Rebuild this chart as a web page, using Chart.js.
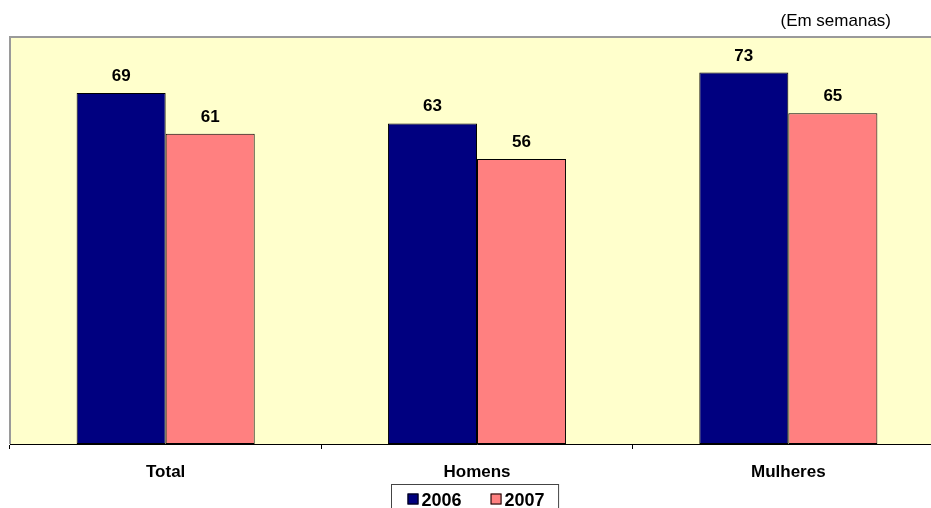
<!DOCTYPE html>
<html>
<head>
<meta charset="utf-8">
<script src="https://cdn.jsdelivr.net/npm/chart.js@4/dist/chart.umd.min.js"></script>
<style>
  html, body { margin: 0; padding: 0; background: #fff; overflow: hidden; }
  #wrap { position: relative; width: 946px; height: 512px; }
</style>
</head>
<body>
<div id="wrap"><canvas id="c" width="946" height="512"></canvas></div>
<script>
// Duração média (em semanas), por sexo
const categories = ['Total', 'Homens', 'Mulheres'];
const seriesNames = ['2006', '2007'];
const values2006 = [69, 63, 73];
const values2007 = [61, 56, 65];
const unitNote = '(Em semanas)';
const yMin = 0;
const yMax = 80;

const FONT = 'Arial, "Liberation Sans", sans-serif';

// Pale yellow plot area with a grey frame
const plotFrame = {
  id: 'plotFrame',
  beforeDatasetsDraw(chart) {
    const { ctx, chartArea: a } = chart;
    ctx.save();
    ctx.fillStyle = '#FFFFCC';
    ctx.fillRect(a.left, a.top, a.right - a.left, a.bottom - a.top);
    ctx.strokeStyle = '#9a9a9a';
    ctx.lineWidth = 2;
    ctx.beginPath();
    ctx.moveTo(a.left, a.bottom);
    ctx.lineTo(a.left, a.top);
    ctx.lineTo(a.right, a.top);
    ctx.lineTo(a.right, a.bottom);
    ctx.stroke();
    ctx.restore();
  }
};

// Value above each bar, plus the unit note at the top right
const valueLabels = {
  id: 'valueLabels',
  afterDatasetsDraw(chart) {
    const { ctx } = chart;
    ctx.save();
    ctx.fillStyle = '#000';
    ctx.font = 'bold 17px ' + FONT;
    ctx.textAlign = 'center';
    ctx.textBaseline = 'alphabetic';
    chart.data.datasets.forEach((ds, di) => {
      const meta = chart.getDatasetMeta(di);
      meta.data.forEach((bar, i) => {
        ctx.fillText(String(ds.data[i]), bar.x, bar.y - 12);
      });
    });
    ctx.font = '17px ' + FONT;
    ctx.textAlign = 'right';
    ctx.fillText(unitNote, 891, 26);
    ctx.restore();
  }
};

// Framed legend centred under the axis
const boxedLegend = {
  id: 'boxedLegend',
  afterDraw(chart) {
    const { ctx, chartArea: a } = chart;
    ctx.save();
    ctx.font = 'bold 18px ' + FONT;
    const padL = 16, padR = 14, sq = 11, gap = 3, between = 29;
    const items = chart.data.datasets.map(ds => ({
      label: ds.label, color: ds.backgroundColor, w: ctx.measureText(ds.label).width
    }));
    let total = padL + padR;
    items.forEach((it, i) => { total += sq + gap + it.w + (i < items.length - 1 ? between : 0); });
    const cx = (a.left + a.right) / 2;
    const left = Math.round(cx - total / 2) - 1.5;
    const top = a.bottom + 40.5;
    ctx.strokeStyle = '#444';
    ctx.lineWidth = 1;
    ctx.strokeRect(left, top, total, 30);
    let x = left + padL;
    ctx.textBaseline = 'alphabetic';
    ctx.textAlign = 'left';
    items.forEach(it => {
      ctx.fillStyle = it.color;
      ctx.fillRect(x, top + 9, sq, sq);
      ctx.strokeStyle = '#000';
      ctx.strokeRect(x + 0.5, top + 9 + 0.5, sq - 1, sq - 1);
      ctx.fillStyle = '#000';
      ctx.fillText(it.label, x + sq + gap, top + 21);
      x += sq + gap + it.w + between;
    });
    ctx.restore();
  }
};

new Chart(document.getElementById('c'), {
  type: 'bar',
  data: {
    labels: categories,
    datasets: [
      { label: seriesNames[0], data: values2006, backgroundColor: '#000080',
        borderColor: '#000', borderWidth: 1, borderSkipped: false },
      { label: seriesNames[1], data: values2007, backgroundColor: '#FF8080',
        borderColor: '#000', borderWidth: 1, borderSkipped: false }
    ]
  },
  options: {
    responsive: false,
    animation: false,
    devicePixelRatio: 1,
    layout: { padding: { top: 37, left: 10, right: 2, bottom: 28 } },
    datasets: { bar: { categoryPercentage: 0.572, barPercentage: 1 } },
    plugins: {
      legend: { display: false },
      tooltip: { enabled: false },
      title: { display: false }
    },
    scales: {
      x: {
        grid: { offset: true, drawOnChartArea: false, drawTicks: true, tickLength: 5, color: '#000', lineWidth: 1 },
        border: { display: true, color: '#000', width: 1 },
        ticks: { color: '#000', font: { family: FONT, size: 17, weight: 'bold' }, padding: 13, maxRotation: 0 },
        afterFit(scale) { scale.height = 40; }
      },
      y: {
        display: false,
        min: yMin,
        max: yMax
      }
    }
  },
  plugins: [plotFrame, valueLabels, boxedLegend]
});
</script>
</body>
</html>
